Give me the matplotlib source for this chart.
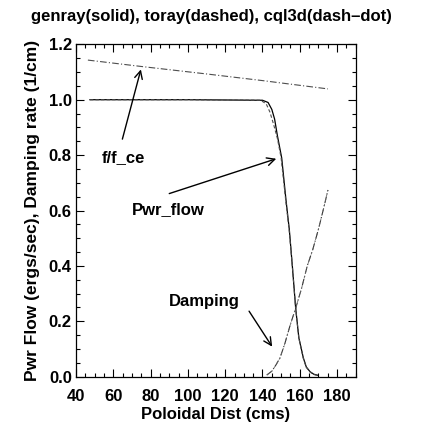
import numpy as np
import matplotlib
matplotlib.use('Agg')
import matplotlib.pyplot as plt
from matplotlib.ticker import MultipleLocator, FormatStrFormatter

plt.rcParams['font.family'] = ['Liberation Sans', 'DejaVu Sans']
plt.rcParams['font.weight'] = 'bold'

# f/f_ce (cql3d, dash-dot)
fce_x = [46.4, 75.0, 110.0, 140.0, 175.1]
fce_y = [1.143, 1.120, 1.093, 1.069, 1.039]

# power flow, genray (solid)
pwr_x = [47.5, 100.0, 140.0, 143.0, 145.0, 146.5, 148.0, 150.3, 152.6, 154.4,
         156.0, 157.8, 159.5, 161.9, 163.5, 165.5, 167.5, 169.8]
pwr_y = [1.0, 1.0, 0.998, 0.99, 0.965, 0.93, 0.87, 0.79, 0.638, 0.53,
         0.40, 0.247, 0.14, 0.068, 0.035, 0.018, 0.009, 0.005]

# power flow, toray (dashed)
pwr_t_x = [47.5, 100.0, 139.0, 142.0, 144.0, 146.0, 148.0, 150.0, 152.4, 154.3,
           156.0, 157.8, 159.5, 161.9, 163.5, 165.5, 167.5, 169.8]
pwr_t_y = [1.0, 1.0, 0.998, 0.985, 0.955, 0.91, 0.86, 0.79, 0.64, 0.53,
           0.40, 0.245, 0.14, 0.066, 0.034, 0.017, 0.008, 0.004]

# damping rate
damp_x = [142.3, 145.0, 147.0, 149.4, 152.0, 155.0, 157.8, 161.0, 164.0, 167.0,
          169.9, 172.5, 175.1]
damp_y = [0.006, 0.02, 0.04, 0.068, 0.12, 0.19, 0.247, 0.32, 0.40, 0.46,
          0.53, 0.60, 0.674]

fig = plt.figure(figsize=(4.22, 4.26), dpi=100)
ax = fig.add_axes([0.180, 0.1157, 0.663, 0.7803])

ax.plot(fce_x, fce_y, color='0.3', lw=0.8, linestyle=(0, (6, 2, 1, 2)))
ax.plot(pwr_x, pwr_y, color='black', lw=0.9)
ax.plot(pwr_t_x, pwr_t_y, color='0.3', lw=0.8, linestyle=(0, (3, 2)))
ax.plot(damp_x, damp_y, color='0.2', lw=0.8, linestyle=(0, (6, 2, 1, 2)))
ax.plot(damp_x, damp_y, color='0.4', lw=0.6, linestyle=(0, (3, 3)))

ax.set_xlim(40, 190)
ax.set_ylim(0, 1.2)
ax.set_xticks([40, 60, 80, 100, 120, 140, 160, 180])
ax.xaxis.set_minor_locator(MultipleLocator(5))
ax.yaxis.set_major_locator(MultipleLocator(0.2))
ax.yaxis.set_minor_locator(MultipleLocator(0.05))
ax.yaxis.set_major_formatter(FormatStrFormatter('%.1f'))
ax.tick_params(which='both', direction='in', top=True, right=True, labelsize=12)
ax.tick_params(which='major', length=6, width=0.8)
ax.tick_params(which='minor', length=3, width=0.8)
ax.tick_params(axis='x', pad=9)
ax.tick_params(axis='y', pad=3)
for s in ax.spines.values():
    s.set_linewidth(0.9)

ax.set_xlabel('Poloidal Dist (cms)', fontsize=12, fontweight='bold', labelpad=2)
ax.set_ylabel('Pwr Flow (ergs/sec), Damping rate (1/cm)', fontsize=12.5,
              fontweight='bold', labelpad=6)
fig.text(0.5, 1 - 17 / 426, 'genray(solid), toray(dashed), cql3d(dash\u2013dot)',
         ha='center', va='center', fontsize=12, fontweight='bold')

arrow = dict(arrowstyle='->', lw=1.0, color='black', mutation_scale=14)
ax.annotate('', xy=(75.2, 1.119), xytext=(64.5, 0.848), arrowprops=arrow)
ax.text(65.2, 0.79, 'f/f_ce', ha='center', va='center', fontsize=12, fontweight='bold')
ax.annotate('', xy=(148.8, 0.79), xytext=(88.6, 0.658), arrowprops=arrow)
ax.text(89.3, 0.605, 'Pwr_flow', ha='center', va='center', fontsize=12, fontweight='bold')
ax.annotate('', xy=(146.0, 0.10), xytext=(132.0, 0.245), arrowprops=arrow)
ax.text(109.0, 0.27, 'Damping', ha='center', va='center', fontsize=12, fontweight='bold')

fig.savefig('out.png', dpi=100)
